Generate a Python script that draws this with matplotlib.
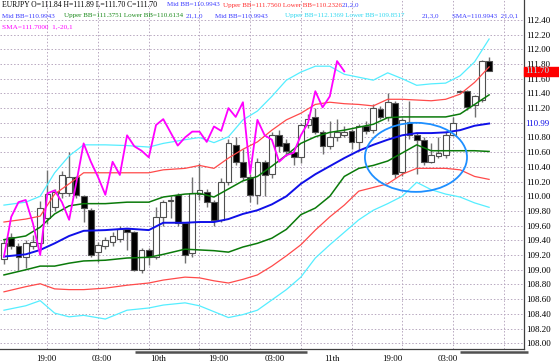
import numpy as np
import matplotlib
matplotlib.use('Agg')
import matplotlib.pyplot as plt
import matplotlib.transforms as mtransforms
from matplotlib.patches import Ellipse, Rectangle

# hourly EURJPY candles
opens = [109.15, 109.44, 109.33, 109.18, 109.33, 109.37, 109.70, 109.86, 110.04, 110.05,
         110.26, 110.00, 109.81, 109.24, 109.32, 109.38, 109.42, 109.55, 109.51, 109.00,
         109.27, 109.18, 109.72, 109.93, 110.02, 109.63, 109.23, 110.03, 110.06, 109.92,
         109.68, 110.19, 110.70, 110.47, 110.26, 110.02, 110.47, 110.31, 110.83, 110.72,
         110.60, 110.53, 110.97, 111.08, 110.87, 110.69, 110.80, 110.84, 110.89, 110.74,
         110.95, 110.90, 111.19, 111.08, 111.27, 110.33, 111.01, 110.83, 110.77, 110.47,
         110.55, 110.56, 110.84, 111.42, 111.43, 111.24, 111.31, 111.84]
highs = [109.42, 109.50, 109.37, 109.40, 109.47, 109.94, 110.36, 110.10, 110.35, 110.60,
         110.28, 110.02, 109.84, 109.38, 109.45, 109.52, 109.60, 109.57, 109.53, 109.30,
         109.29, 109.85, 109.95, 110.00, 110.05, 109.65, 110.26, 110.45, 110.10, 109.95,
         110.25, 110.78, 110.80, 110.65, 110.30, 110.52, 110.50, 110.88, 110.90, 110.78,
         110.62, 111.00, 111.12, 111.20, 110.90, 111.03, 111.05, 110.95, 110.92, 110.98,
         111.02, 111.25, 111.23, 111.40, 111.30, 111.06, 111.29, 110.86, 110.80, 110.72,
         110.80, 110.88, 111.08, 111.45, 111.45, 111.38, 111.86, 111.89]
lows = [109.08, 109.28, 109.00, 109.03, 109.28, 109.25, 109.62, 109.80, 109.98, 110.00,
        109.98, 109.65, 109.18, 109.11, 109.28, 109.33, 109.38, 109.27, 108.98, 108.96,
        109.07, 109.15, 109.60, 109.70, 109.60, 109.09, 109.18, 109.95, 109.85, 109.60,
        109.65, 110.15, 110.42, 110.22, 109.92, 109.90, 110.00, 110.25, 110.60, 110.55,
        110.42, 110.45, 110.93, 110.85, 110.58, 110.65, 110.75, 110.80, 110.65, 110.62,
        110.85, 110.86, 111.05, 111.03, 110.25, 110.28, 110.78, 110.31, 110.42, 110.45,
        110.52, 110.52, 110.82, 111.40, 111.18, 111.08, 111.28, 111.70]
closes = [109.36, 109.32, 109.17, 109.36, 109.38, 109.84, 110.03, 110.06, 110.29, 110.26,
          110.02, 109.84, 109.20, 109.34, 109.41, 109.46, 109.55, 109.51, 109.00, 109.27,
          109.18, 109.72, 109.92, 109.95, 109.63, 109.20, 110.04, 110.08, 109.92, 109.68,
          110.19, 110.72, 110.47, 110.26, 110.02, 110.47, 110.29, 110.83, 110.68, 110.62,
          110.53, 110.97, 111.05, 110.87, 110.69, 110.80, 110.88, 110.88, 110.74, 110.95,
          110.89, 111.20, 111.08, 111.28, 110.31, 111.04, 110.83, 110.77, 110.47, 110.56,
          110.59, 110.83, 111.00, 111.43, 111.21, 111.36, 111.84, 111.70]

# Bollinger bands (21) sampled at these bars
band_bars = [0, 3, 5, 7, 9, 11, 14, 17, 20, 22, 25, 27, 29, 31, 33, 35,
             37, 39, 41, 43, 45, 47, 49, 51, 53, 55, 57, 59, 61, 63, 65, 67]
mid_bb = [109.18, 109.21, 109.27, 109.36, 109.46, 109.53, 109.54, 109.56, 109.54, 109.64, 109.64,
          109.65, 109.65, 109.69, 109.76, 109.81, 109.89, 110.00, 110.17, 110.30, 110.41, 110.52,
          110.62, 110.70, 110.77, 110.83, 110.86, 110.86, 110.87, 110.90, 110.96, 110.99]
upper1 = [109.41, 109.46, 109.58, 109.76, 109.87, 109.90, 109.90, 109.92, 109.92, 109.99, 110.03,
          110.04, 109.99, 110.10, 110.21, 110.27, 110.41, 110.56, 110.72, 110.81, 110.87, 110.90,
          110.94, 110.98, 111.07, 111.08, 111.08, 111.08, 111.08, 111.12, 111.25, 111.38]
lower1 = [108.93, 109.00, 109.05, 109.05, 109.09, 109.12, 109.13, 109.16, 109.17, 109.21, 109.28,
          109.27, 109.26, 109.24, 109.31, 109.36, 109.43, 109.55, 109.75, 109.84, 110.00, 110.27,
          110.38, 110.42, 110.48, 110.59, 110.70, 110.62, 110.62, 110.62, 110.62, 110.61]
upper2 = [109.65, 109.69, 109.73, 110.03, 110.17, 110.32, 110.32, 110.32, 110.32, 110.36, 110.38,
          110.42, 110.38, 110.52, 110.64, 110.74, 110.90, 111.04, 111.13, 111.25, 111.28, 111.26,
          111.25, 111.23, 111.32, 111.32, 111.31, 111.30, 111.32, 111.39, 111.55, 111.76]
lower2 = [108.70, 108.77, 108.81, 108.74, 108.73, 108.73, 108.75, 108.79, 108.82, 108.86, 108.90,
          108.89, 108.85, 108.82, 108.87, 108.93, 109.05, 109.19, 109.34, 109.54, 109.72, 109.88,
          110.07, 110.12, 110.17, 110.30, 110.38, 110.38, 110.38, 110.36, 110.27, 110.23]
upper3 = [109.88, 109.92, 110.00, 110.32, 110.55, 110.70, 110.70, 110.69, 110.67, 110.72, 110.77,
          110.80, 110.73, 110.81, 111.04, 111.16, 111.36, 111.58, 111.69, 111.77, 111.77, 111.66,
          111.62, 111.58, 111.68, 111.60, 111.51, 111.53, 111.54, 111.64, 111.83, 112.14]
lower3 = [108.45, 108.51, 108.58, 108.41, 108.36, 108.38, 108.33, 108.45, 108.48, 108.52, 108.55,
          108.51, 108.43, 108.35, 108.39, 108.45, 108.59, 108.73, 108.90, 109.16, 109.34, 109.51,
          109.68, 109.81, 109.90, 110.00, 110.19, 110.09, 110.03, 109.99, 109.91, 109.85]

shift = -20  # SMA(1) shifted back 20 bars

time_pos = [5.8, 13.5, 21.3, 29.6, 37.4, 45.3, 53.6, 61.3]
time_labels = ['19:00', '03:00', '10th', '19:00', '03:00', '11th', '19:00', '03:00']
grid_bars = [6, 13, 20, 27, 34, 41, 48, 55, 62, 69]
day_spans = [(18.1, 41.9), (63.0, 72.4)]

# (x start in px, text, colour, font size)
legend_rows = [
    [(2, 'EURJPY O=111.84 H=111.89 L=111.70 C=111.70', 'black', 5.5),
     (167, 'Mid BB=110.9943', '#3a3aff', 5.0),
     (223, 'Upper BB=111.7560 Lower BB=110.2326', '#ff3030', 5.0),
     (342, '21,2,0', '#3a3aff', 5.0)],
    [(2, 'Mid BB=110.9943', '#3a3aff', 5.0),
     (64, 'Upper BB=111.3751 Lower BB=110.6134', '#1a8a1a', 5.0),
     (186, '21,1,0', '#3a3aff', 5.0),
     (215, 'Mid BB=110.9943', '#3a3aff', 5.0),
     (285, 'Upper BB=112.1369 Lower BB=109.8517', '#30d8f0', 5.0),
     (422, '21,3,0', '#3a3aff', 5.0),
     (452, 'SMA=110.9943  21,0,1', '#3a3aff', 5.0)],
    [(2, 'SMA=111.7000  1,-20,1', '#ff00ff', 5.2)],
]
legend_y = [5, 16, 27]

W, H = 559, 364
fig = plt.figure(figsize=(W / 100, H / 100), dpi=100)
ax = fig.add_axes([0, 15 / H, 524 / W, 349 / H])
ax.set_xlim(-0.55, 71.82)
ax.set_ylim(107.922, 112.671)

# grid
for p in np.arange(108.0, 112.41, 0.2):
    ax.axhline(p, color='#b8a8c0', lw=0.7, ls=(0, (1.5, 2)), zorder=0)
for b in grid_bars:
    ax.axvline(b, color='#b8a8c0', lw=0.7, ls=(0, (1.5, 2)), zorder=0)

# candles
x = np.arange(len(opens))
o = np.array(opens)
c = np.array(closes)
ax.vlines(x, lows, highs, color='#707070', lw=1.0, zorder=2)
bottoms = np.minimum(o, c)
heights = np.maximum(np.abs(c - o), 0.008)
cols = ['white' if cc >= oo else 'black' for oo, cc in zip(o, c)]
ax.bar(x, heights, 0.8, bottoms, color=cols, edgecolor='#505050', lw=0.8, zorder=3)

# bands
ax.plot(band_bars, lower3, color='#55eeff', lw=0.9, zorder=4)
ax.plot(band_bars, upper3, color='#55eeff', lw=0.9, zorder=4)
ax.plot(band_bars, lower2, color='#ff4a4a', lw=0.9, zorder=4)
ax.plot(band_bars, upper2, color='#ff4a4a', lw=0.9, zorder=4)
ax.plot(band_bars, lower1, color='#0a7a0a', lw=1.1, zorder=4)
ax.plot(band_bars, upper1, color='#0a7a0a', lw=1.1, zorder=4)
ax.plot(band_bars, mid_bb, color='#1010e8', lw=1.4, zorder=4)

# lagging close line
ax.plot(x[-shift:] + shift, closes[-shift:], color='#ff00ff', lw=1.3, zorder=5)

# hand-drawn ellipse
ell_center = (56.9, 110.53)
ell_w, ell_h = 14.1, 0.94
ax.add_patch(Ellipse(ell_center, ell_w, ell_h, fill=False, edgecolor='#1e8fff', lw=1.3, zorder=6))

# spines / axes
for s in ['top', 'left']:
    ax.spines[s].set_visible(False)
for s in ['right', 'bottom']:
    ax.spines[s].set_color('#404040')
    ax.spines[s].set_linewidth(0.9)

ax.set_xticks(time_pos, time_labels)
ax.tick_params(axis='x', length=0, pad=4, labelsize=6.3)
for t in ax.get_xticklabels():
    t.set_family('Liberation Serif')

price_ticks = np.round(np.arange(108.0, 112.41, 0.2), 2)
ax.yaxis.tick_right()
ax.set_yticks(price_ticks, ['' if abs(p - 111.0) < 1e-6 else '%.2f' % p for p in price_ticks])
ax.tick_params(axis='y', length=0, pad=1.5, labelsize=6.5)
for t in ax.get_yticklabels():
    t.set_family('Liberation Serif')

trans = mtransforms.blended_transform_factory(ax.transAxes, ax.transData)
ax.text(1.0 + 1.5 / 524, mid_bb[-1], '%.2f' % mid_bb[-1], transform=trans, color='#1010e8',
        fontsize=6.5, family='Liberation Serif', va='center', ha='left', clip_on=False)
box_h = 4.2 / 73.5
ax.add_patch(Rectangle((1.0, closes[-1] - box_h), 35 / 524, 2 * box_h, transform=trans,
                       color='#ff0000', clip_on=False, zorder=7))
ax.text(1.0 + 1.5 / 524, closes[-1], '%.2f' % closes[-1], transform=trans, color='#9ff8ff',
        fontsize=6.5, family='Liberation Serif', va='center', ha='left', clip_on=False, zorder=8)

# day markers under the time axis
day_trans = mtransforms.blended_transform_factory(ax.transData, fig.transFigure)
for b0, b1 in day_spans:
    ax.plot([b0, b1], [1 - 352 / H] * 2, transform=day_trans, color='#505050', lw=1.8,
            clip_on=False, solid_capstyle='butt')

# indicator legend text
for yy, row in zip(legend_y, legend_rows):
    for xx, txt, col, fs in row:
        fig.text(xx / W, 1 - yy / H, txt, color=col, fontsize=fs, family='Liberation Serif',
                 va='center', ha='left')

fig.savefig('out.png', dpi=100, facecolor='white')
